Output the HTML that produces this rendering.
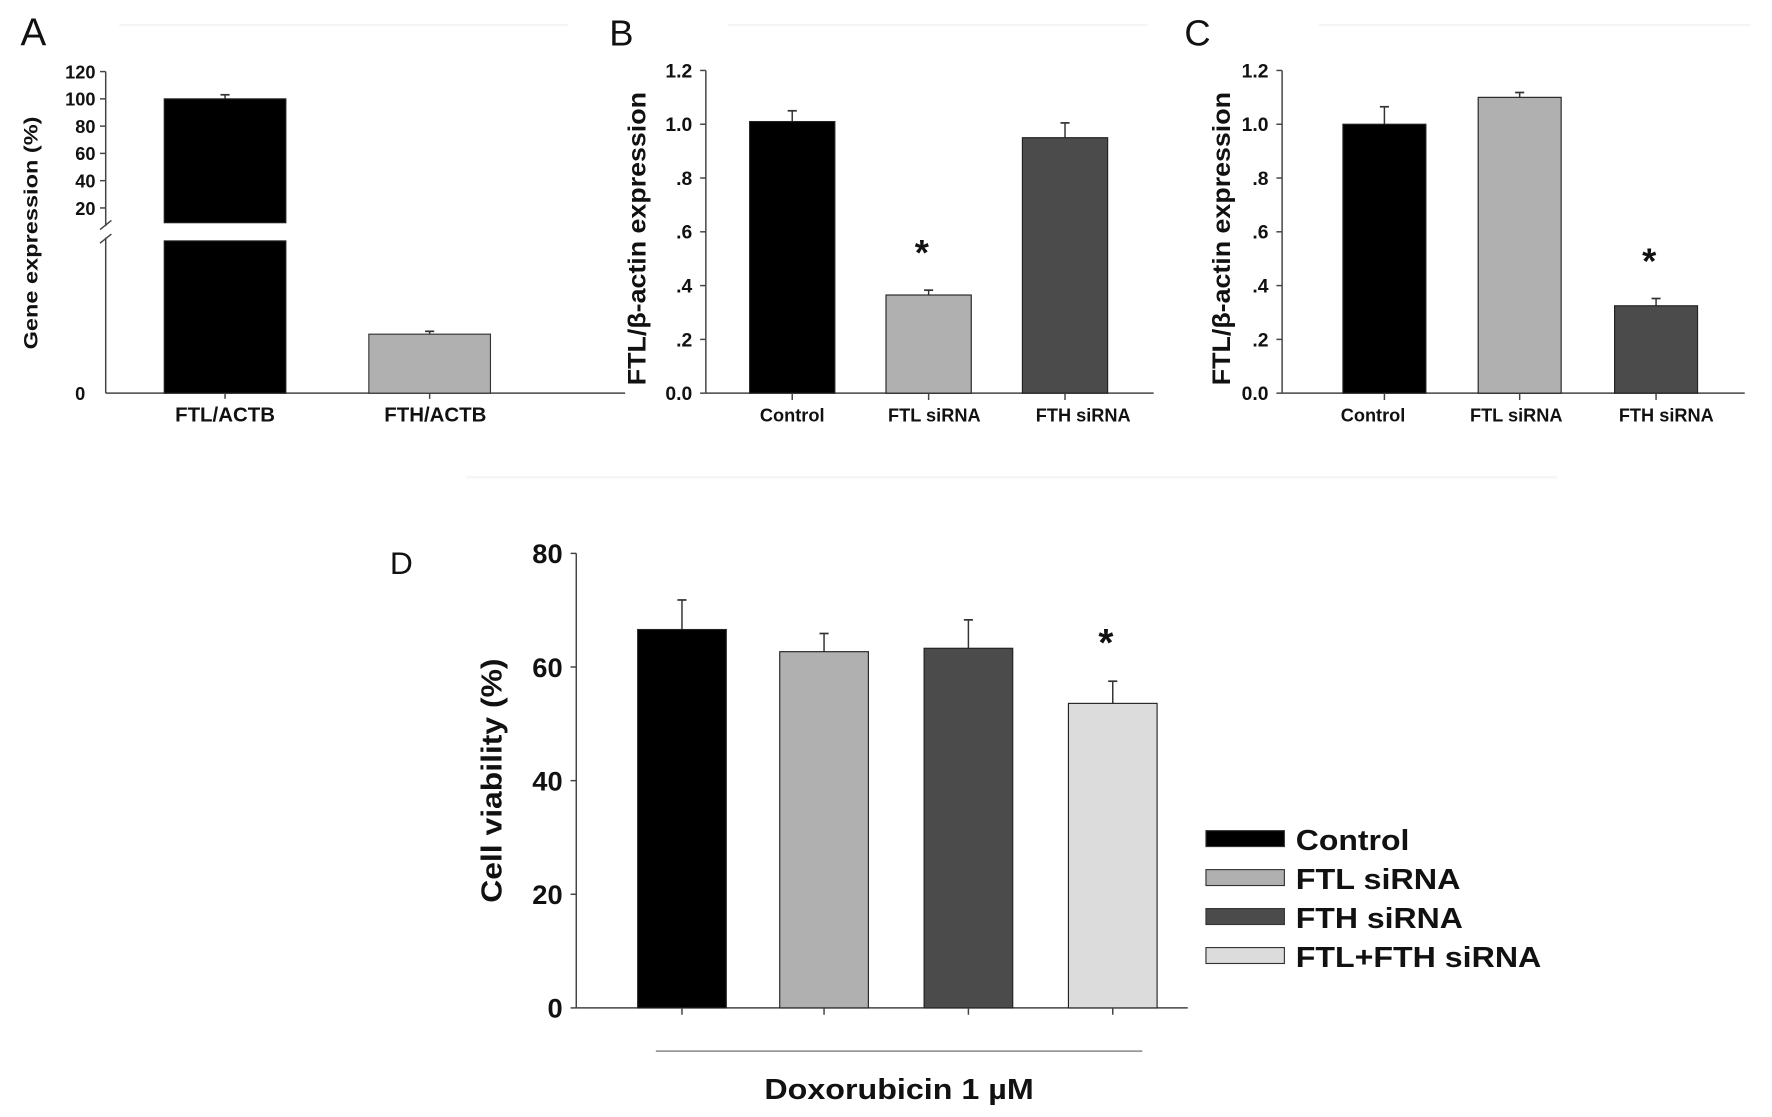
<!DOCTYPE html>
<html><head><meta charset="utf-8"><style>
html,body{margin:0;padding:0;background:#fff}
svg{display:block}
text{font-family:"Liberation Sans",Arial,sans-serif;font-weight:bold;fill:#111}
</style></head><body>
<svg id="fig" width="1772" height="1117" viewBox="0 0 1559 983" preserveAspectRatio="none" xmlns="http://www.w3.org/2000/svg">
<g id="root"></g>
</svg>
<script>
// Panel A data
const aCats = ["FTL/ACTB", "FTH/ACTB"];
const aVals = [100, 3.1];
const aErrs = [3, 0.15];
const aTicks = [20, 40, 60, 80, 100, 120];
// Panel B data
const bCats = ["Control", "FTL siRNA", "FTH siRNA"];
const bVals = [1.01, 0.365, 0.95];
const bErrs = [0.04, 0.018, 0.055];
const bStar = [false, true, false];
// Panel C data
const cCats = ["Control", "FTL siRNA", "FTH siRNA"];
const cVals = [1.0, 1.1, 0.325];
const cErrs = [0.065, 0.018, 0.027];
const cStar = [false, false, true];
const bcTicks = ["0.0", ".2", ".4", ".6", ".8", "1.0", "1.2"];
const bcTickVals = [0, 0.2, 0.4, 0.6, 0.8, 1.0, 1.2];
// Panel D data
const dCats = ["Control", "FTL siRNA", "FTH siRNA", "FTL+FTH siRNA"];
const dVals = [66.6, 62.7, 63.3, 53.6];
const dErrs = [5.2, 3.2, 5.0, 3.9];
const dStar = [false, false, false, true];
const dTicks = [0, 20, 40, 60, 80];

const NS = "http://www.w3.org/2000/svg";
const root = document.getElementById('root');
function el(tag, attrs, parent, txt){
  const e = document.createElementNS(NS, tag);
  for (const k in attrs) e.setAttribute(k, attrs[k]);
  if (txt !== undefined) e.textContent = txt;
  (parent || root).appendChild(e);
  return e;
}
const fills3 = ["#000000", "#b0b0b0", "#4b4b4b"];
const fills4 = ["#000000", "#b0b0b0", "#4b4b4b", "#dcdcdc"];

[[105,22,500,22],[640,22,1010,22],[1160,22,1540,22],[410,420,1370,420]].forEach(f=>{
  const l = el('line',{x1:f[0],y1:f[1],x2:f[2],y2:f[3],stroke:'#f5f5f5','stroke-width':2});
  
  
});

function panelLetter(x, y, t, size){
  const e = el('text',{x:x,y:y,'font-size':size,style:'font-weight:normal'}, root, t);
  
  
}

function barPanel(opt){
  const g = el('g',{});
  
  
  const y = v => opt.y0 - (v - opt.vmin) / (opt.vmax - opt.vmin) * (opt.y0 - opt.y1);
  const ya = el('line',{x1:opt.ax,y1:opt.y1,x2:opt.ax,y2:opt.y0,stroke:'#444','stroke-width':1.3},g);
   
  const xa = el('line',{x1:opt.ax,y1:opt.y0,x2:opt.axEnd,y2:opt.y0,stroke:'#444','stroke-width':1.3},g);
   
  opt.tickVals.forEach((tv,i)=>{
    el('line',{x1:opt.ax-5,y1:y(tv),x2:opt.ax,y2:y(tv),stroke:'#444','stroke-width':1.3},g);
    const t = el('text',{x:opt.ax-12,y:y(tv)+opt.tfs*0.36,'text-anchor':'end','font-size':opt.tfs},g,opt.tickLabels[i]);
     
  });
  const n = opt.vals.length;
  const slot = (opt.axEnd - opt.ax) / n;
  opt.vals.forEach((v,i)=>{
    const cx = opt.centers[i];
    const top = y(v);
    const eTop = y(v + opt.errs[i]);
    el('line',{x1:cx,y1:eTop,x2:cx,y2:top,stroke:'#333','stroke-width':1.3},g);
    el('line',{x1:cx-4,y1:eTop,x2:cx+4,y2:eTop,stroke:'#333','stroke-width':1.5},g);
    const r = el('rect',{x:cx-opt.bw/2,y:top,width:opt.bw,height:opt.y0-top,fill:opt.fills[i],stroke:'#222','stroke-width':1},g);
    
    
    el('line',{x1:cx,y1:opt.y0,x2:cx,y2:opt.y0+6,stroke:'#444','stroke-width':1.3},g);
    if (opt.showCats){
      const lx = opt.labelCenters ? opt.labelCenters[i] : cx;
      const t = el('text',{x:lx,y:opt.y0+opt.cfs+9,'text-anchor':'middle','font-size':opt.cfs},g,opt.cats[i]);
       
    }
    if (opt.star && opt.star[i]){
      const s = el('text',{x:cx-6,y:eTop-opt.starGap,'text-anchor':'middle','font-size':opt.starSize},g,'*');
       
    }
  });
  const yt = el('text',{x:0,y:0,'text-anchor':'middle','font-size':opt.yfs,textLength:opt.ytl,lengthAdjust:'spacingAndGlyphs',transform:`translate(${opt.ytx},${opt.yty}) rotate(-90)`},g,opt.ytitle);
   
  return {g, y, slot};
}

// ---------- Panel A (broken axis) ----------
panelLetter(18, 40, 'A', 34);
(function(){
  const g = el('g',{});
  
  
  const ax = 93, axEnd = 550, y0 = 346, breakLo = 212, breakHi = 196;
  const lowMax = 8;
  const centers = [198, 378];
  const yLow = v => y0 - v / lowMax * (y0 - breakLo);
  const yUp = v => 183 - (v - 20) / 80 * (183 - 87);
  const yv = v => v <= lowMax ? yLow(v) : yUp(v);
  el('line',{x1:ax,y1:yUp(120),x2:ax,y2:breakHi+3,stroke:'#444','stroke-width':1.3},g);
  el('line',{x1:ax,y1:breakLo-3,x2:ax,y2:y0,stroke:'#444','stroke-width':1.3},g);
  el('line',{x1:ax-5,y1:breakHi+6,x2:ax+5,y2:breakHi-2,stroke:'#444','stroke-width':1.3},g);
  el('line',{x1:ax-5,y1:breakLo+2,x2:ax+5,y2:breakLo-6,stroke:'#444','stroke-width':1.3},g);
  const xa = el('line',{x1:ax,y1:y0,x2:axEnd,y2:y0,stroke:'#444','stroke-width':1.3},g);
   
  aTicks.forEach(tv=>{
    el('line',{x1:ax-5,y1:yUp(tv),x2:ax,y2:yUp(tv),stroke:'#444','stroke-width':1.3},g);
    const t = el('text',{x:ax-9,y:yUp(tv)+6,'text-anchor':'end','font-size':16},g,String(tv));
     
  });
  const z = el('text',{x:ax-18,y:y0+6,'text-anchor':'end','font-size':16},g,'0');
   
  aVals.forEach((v,i)=>{
    const cx = centers[i];
    const bw = 107;
    const fill = i===0 ? '#000' : '#b0b0b0';
    const top = yv(v);
    const eTop = yv(v + aErrs[i]);
    el('line',{x1:cx,y1:eTop,x2:cx,y2:top,stroke:'#333','stroke-width':1.3},g);
    el('line',{x1:cx-4,y1:eTop,x2:cx+4,y2:eTop,stroke:'#333','stroke-width':1.5},g);
    if (v > lowMax){
      const r1 = el('rect',{x:cx-bw/2,y:top,width:bw,height:breakHi-top,fill:fill,stroke:'#222'},g);
      
      
      const r2 = el('rect',{x:cx-bw/2,y:breakLo,width:bw,height:y0-breakLo,fill:fill,stroke:'#222'},g);
      
      
    } else {
      const r = el('rect',{x:cx-bw/2,y:top,width:bw,height:y0-top,fill:fill,stroke:'#333'},g);
      
      
    }
    el('line',{x1:cx,y1:y0,x2:cx,y2:y0+5,stroke:'#444','stroke-width':1.3},g);
    const t = el('text',{x:cx+(i?5:0),y:371,'text-anchor':'middle','font-size':18},g,aCats[i]);
     
  });
  const yt = el('text',{x:0,y:0,'text-anchor':'middle','font-size':17,textLength:205,lengthAdjust:'spacingAndGlyphs',transform:'translate(33,205) rotate(-90)'},g,'Gene expression (%)');
   
})();

// ---------- Panel B ----------
panelLetter(536, 40, 'B', 32);
barPanel({name:'panel-b-chart',ax:621,axEnd:1015,y0:346,y1:62,vmin:0,vmax:1.2,
  tickVals:bcTickVals,tickLabels:bcTicks,tfs:17,vals:bVals,errs:bErrs,cats:bCats,fills:fills3,
  centers:[697,817,937],labelCenters:[697,822,953],
  bw:75,showCats:true,cfs:16,star:bStar,starGap:22,starSize:32,
  ytitle:'FTL/β-actin expression',yfs:22,ytl:258,ytx:568,yty:210});

// ---------- Panel C ----------
panelLetter(1042, 40, 'C', 32);
barPanel({name:'panel-c-chart',ax:1128,axEnd:1535,y0:346,y1:62,vmin:0,vmax:1.2,
  tickVals:bcTickVals,tickLabels:bcTicks,tfs:17,vals:cVals,errs:cErrs,cats:cCats,fills:fills3,
  centers:[1218,1337,1457],labelCenters:[1208,1334,1466],
  bw:73,showCats:true,cfs:16,star:cStar,starGap:22,starSize:32,
  ytitle:'FTL/β-actin expression',yfs:22,ytl:258,ytx:1082,yty:210});

// ---------- Panel D ----------
panelLetter(343, 505, 'D', 28);
barPanel({name:'panel-d-chart',ax:507,axEnd:1045,y0:887,y1:487,vmin:0,vmax:80,
  tickVals:dTicks,tickLabels:dTicks.map(String),tfs:24,vals:dVals,errs:dErrs,cats:dCats,fills:fills4,
  centers:[600,725,852,979],
  bw:78,showCats:false,cfs:14,star:dStar,starGap:22,starSize:34,
  ytitle:'Cell viability (%)',yfs:25,ytl:215,ytx:441,yty:687});
(function(){
  const l = el('line',{x1:577,y1:925,x2:1005,y2:925,stroke:'#888','stroke-width':1.3});
  
  
  const t = el('text',{x:791,y:967,'text-anchor':'middle','font-size':25,textLength:237,lengthAdjust:'spacingAndGlyphs'},root,'Doxorubicin 1 µM');
  
  
  const lg = el('g',{});
  
  
  const legLens = [100, 145, 147, 216];
  dCats.forEach((c,i)=>{
    const yy = 731 + i*34.3;
    const r = el('rect',{x:1061,y:yy,width:69,height:14,fill:fills4[i],stroke:'#333'},lg);
    
    
    const t2 = el('text',{x:1140,y:yy+17,'font-size':25,textLength:legLens[i],lengthAdjust:'spacingAndGlyphs'},lg,c);
    
    
  });
})();
</script>
</body></html>
